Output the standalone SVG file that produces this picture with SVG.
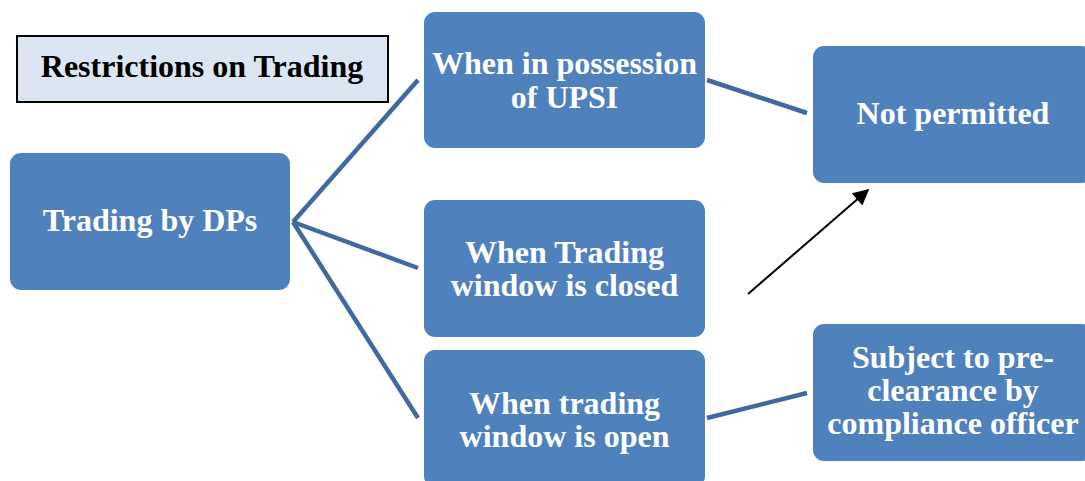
<svg xmlns="http://www.w3.org/2000/svg" width="1085" height="481" viewBox="0 0 1085 481">
  <style>
    .node { fill: #4f81bd; }
    .label { font-family: "Liberation Serif", "Times New Roman", serif; font-weight: bold; font-size: 32px; fill: #ffffff; text-anchor: middle; }
    .title { font-family: "Liberation Serif", "Times New Roman", serif; font-weight: bold; font-size: 32px; fill: #000000; text-anchor: middle; }
    .link { stroke: #41699e; stroke-width: 4.5; fill: none; }
    .arrow { stroke: #000000; stroke-width: 2; fill: none; }
  </style>
  <defs>
    <marker id="head" viewBox="0 0 10 10" refX="9" refY="5" markerWidth="9" markerHeight="9" markerUnits="userSpaceOnUse" orient="auto">
      <path d="M0,0 L10,5 L0,10 z" fill="#000000"/>
    </marker>
    <marker id="headBig" viewBox="0 0 10 10" refX="9" refY="5" markerWidth="18" markerHeight="16" markerUnits="userSpaceOnUse" orient="auto">
      <path d="M0,0 L10,5 L0,10 z" fill="#000000"/>
    </marker>
  </defs>

  <rect width="1085" height="481" fill="#ffffff"/>

  <!-- heading box -->
  <g id="title">
    <rect x="17" y="36" width="371" height="66" fill="#dce6f2" stroke="#000000" stroke-width="2"/>
    <text class="title" x="202" y="77">Restrictions on Trading</text>
  </g>

  <!-- connectors -->
  <g id="connectors">
    <line class="link" x1="293" y1="222" x2="418" y2="80"/>
    <line class="link" x1="293" y1="222" x2="418" y2="268"/>
    <line class="link" x1="293" y1="222" x2="418" y2="418"/>
    <line class="link" x1="707" y1="80" x2="807" y2="113"/>
    <line class="link" x1="707" y1="418" x2="807" y2="393"/>
    <line class="arrow" x1="748" y1="294" x2="868" y2="190" marker-end="url(#headBig)"/>
  </g>

  <g id="dps">
    <rect class="node" x="10" y="153" width="280" height="137" rx="11"/>
    <text class="label" x="150" y="231">Trading by DPs</text>
  </g>

  <g id="upsi">
    <rect class="node" x="424" y="12" width="281" height="136" rx="11"/>
    <text class="label" x="564.5" y="74">When in possession</text>
    <text class="label" x="564.5" y="108">of UPSI</text>
  </g>

  <g id="closed">
    <rect class="node" x="424" y="200" width="281" height="137" rx="11"/>
    <text class="label" x="564.5" y="263">When Trading</text>
    <text class="label" x="564.5" y="296">window is closed</text>
  </g>

  <g id="open">
    <rect class="node" x="424" y="350" width="281" height="137" rx="11"/>
    <text class="label" x="564.5" y="414">When trading</text>
    <text class="label" x="564.5" y="447">window is open</text>
  </g>

  <g id="notPermitted">
    <rect class="node" x="813" y="46" width="280" height="137" rx="11"/>
    <text class="label" x="953" y="124">Not permitted</text>
  </g>

  <g id="preclearance">
    <rect class="node" x="813" y="324" width="280" height="137" rx="11"/>
    <text class="label" x="953" y="368">Subject to pre-</text>
    <text class="label" x="953" y="401">clearance by</text>
    <text class="label" x="953" y="434">compliance officer</text>
  </g>
</svg>
